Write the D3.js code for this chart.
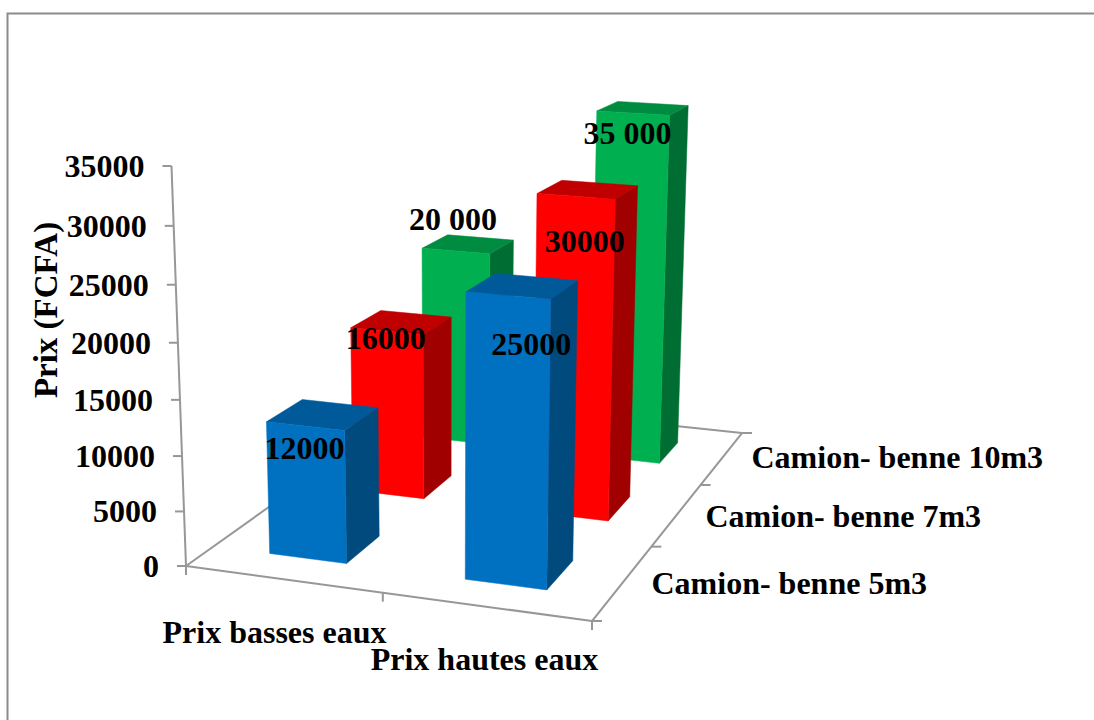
<!DOCTYPE html>
<html lang="fr">
<head>
<meta charset="utf-8">
<title>Prix par type de camion-benne</title>
<script src="https://cdn.jsdelivr.net/npm/d3@7/dist/d3.min.js"></script>
<style>
  html, body { margin: 0; padding: 0; background: #fff; }
  svg { display: block; }
  text { font-family: "Liberation Serif", serif; font-weight: bold; fill: #000; }
</style>
</head>
<body>
<svg id="chart" width="1094" height="720"></svg>
<script>
// Data
const categories = ["Prix basses eaux", "Prix hautes eaux"];
const seriesNames = ["Camion- benne 5m3", "Camion- benne 7m3", "Camion- benne 10m3"];
const lowWaterPrices = [12000, 16000, 20000];
const highWaterPrices = [25000, 30000, 35000];
const lowWaterLabels = ["12000", "16000", "20 000"];
const highWaterLabels = ["25000", "30000", "35 000"];
const yTicks = [0, 5000, 10000, 15000, 20000, 25000, 30000, 35000];
const yTitle = "Prix (FCFA)";

// Face colours per series: front, top, side
const seriesColors = [
  { front: "#0070c0", top: "#005a9a", side: "#004a7e" },
  { front: "#ff0000", top: "#c00000", side: "#a00000" },
  { front: "#00b050", top: "#008c40", side: "#006e32" }
];

// Scales into the unit cube of the plot: x along categories, z into the depth, y up
const xBand = d3.scaleBand().domain(d3.range(categories.length)).range([-0.002, 0.998]).paddingInner(0.6).paddingOuter(0.3);
const zBand = d3.scaleBand().domain(d3.range(seriesNames.length)).range([-0.005, 0.995]).paddingInner(0.6).paddingOuter(0.3);
const yScale = d3.scaleLinear().domain([0, 35000]).range([0, 1]);
const barHeight = d3.scaleLinear().domain([0, 35000]).range([0, 1.012]);

// Perspective camera: homogeneous projection of the unit cube onto the page
const camera = {
  ux: 370.95, uy: -23.5, uz: 356.6, u0: 186,
  vx: 18.24, vy: -408.7, vz: -51.1, v0: 566,
  wx: -0.0592, wy: -0.0525, wz: 0.2904
};
function project(x, y, z) {
  const w = camera.wx * x + camera.wy * y + camera.wz * z + 1;
  return [
    (camera.ux * x + camera.uy * y + camera.uz * z + camera.u0) / w,
    (camera.vx * x + camera.vy * y + camera.vz * z + camera.v0) / w
  ];
}

const svg = d3.select("#chart");
const fontSize = 32;
const gray = "#979797";

// Outer chart frame, open on the right and at the bottom
svg.append("path")
  .attr("d", "M7.5,720V13.5H1094")
  .attr("fill", "none").attr("stroke", "#8c8c8c").attr("stroke-width", 2);

const segment = d3.line();
function axisLine(a, b) {
  svg.append("path").attr("d", segment([a, b]))
    .attr("fill", "none").attr("stroke", gray).attr("stroke-width", 2);
}

// Floor outline
axisLine(project(0, 0, 0), project(1, 0, 0));
axisLine(project(1, 0, 0), project(1, 0, 1));
axisLine(project(1, 0, 1), project(0, 0, 1));
axisLine(project(0, 0, 1), project(0, 0, 0));

// Value axis, ticks and labels
axisLine(project(0, 0, 0), project(0, 1, 0));
yTicks.forEach(t => {
  const p = project(0, yScale(t), 0);
  axisLine([p[0] - 9, p[1]], p);
  svg.append("text")
    .attr("x", p[0] - 27).attr("y", p[1] + 11)
    .attr("text-anchor", "end").attr("font-size", fontSize)
    .text(t);
});

// Category ticks along the front edge
[0, 0.5, 1].forEach(x => {
  const p = project(x, 0, 0);
  axisLine(p, [p[0], p[1] + 9]);
});
// Depth ticks along the right edge
[0, 1 / 3, 2 / 3, 1].forEach(z => {
  const p = project(1, 0, z);
  axisLine(p, [p[0] + 10, p[1]]);
});

// Bars, back to front so nearer boxes cover farther ones
const bars = [];
seriesNames.forEach((name, s) => {
  categories.forEach((cat, c) => {
    const values = c === 0 ? lowWaterPrices : highWaterPrices;
    const labels = c === 0 ? lowWaterLabels : highWaterLabels;
    bars.push({ c, s, value: values[s], label: labels[s] });
  });
});
bars.sort((a, b) => d3.descending(a.s, b.s) || d3.ascending(a.c, b.c));

const barGroups = svg.selectAll("g.bar").data(bars).join("g").attr("class", "bar");
barGroups.each(function (d) {
  const x0 = xBand(d.c), x1 = x0 + xBand.bandwidth();
  const z0 = zBand(d.s), z1 = z0 + zBand.bandwidth();
  const h = barHeight(d.value);
  const g = d3.select(this);
  const colors = seriesColors[d.s];
  const face = (pts, fill) => g.append("path")
    .attr("d", segment(pts.map(p => project(...p))) + "Z")
    .attr("fill", fill).attr("stroke", fill).attr("stroke-width", 0.5);
  face([[x1, 0, z0], [x1, 0, z1], [x1, h, z1], [x1, h, z0]], colors.side);
  face([[x0, h, z0], [x1, h, z0], [x1, h, z1], [x0, h, z1]], colors.top);
  face([[x0, 0, z0], [x1, 0, z0], [x1, h, z0], [x0, h, z0]], colors.front);
});

// Value labels, placed relative to the middle of each bar's top front edge
const labelOffsets = {
  "0-0": [-0.8, 32.5], "0-1": [-1, 17.3], "0-2": [-2.8, -21],
  "1-0": [23, 59.6], "1-1": [8.8, 56], "1-2": [-5.4, 30.4]
};
const labelAnchor = d => project(xBand(d.c) + xBand.bandwidth() / 2, barHeight(d.value), zBand(d.s));
svg.selectAll("text.value").data(bars).join("text")
  .attr("class", "value")
  .attr("text-anchor", "middle").attr("font-size", fontSize)
  .attr("x", d => labelAnchor(d)[0] + labelOffsets[`${d.c}-${d.s}`][0])
  .attr("y", d => labelAnchor(d)[1] + labelOffsets[`${d.c}-${d.s}`][1])
  .text(d => d.label);

// Axis names
const categoryAnchors = [[274.5, 643], [484.5, 670]];
categories.forEach((c, i) => {
  svg.append("text").attr("x", categoryAnchors[i][0]).attr("y", categoryAnchors[i][1])
    .attr("text-anchor", "middle").attr("font-size", fontSize).text(c);
});
const seriesAnchors = [[651.5, 594], [705.5, 527], [751.5, 468]];
seriesNames.forEach((n, i) => {
  svg.append("text").attr("x", seriesAnchors[i][0]).attr("y", seriesAnchors[i][1])
    .attr("font-size", fontSize).text(n);
});
svg.append("text")
  .attr("transform", "translate(57,310) rotate(-90)")
  .attr("text-anchor", "middle").attr("font-size", 33)
  .text(yTitle);
</script>
</body>
</html>
